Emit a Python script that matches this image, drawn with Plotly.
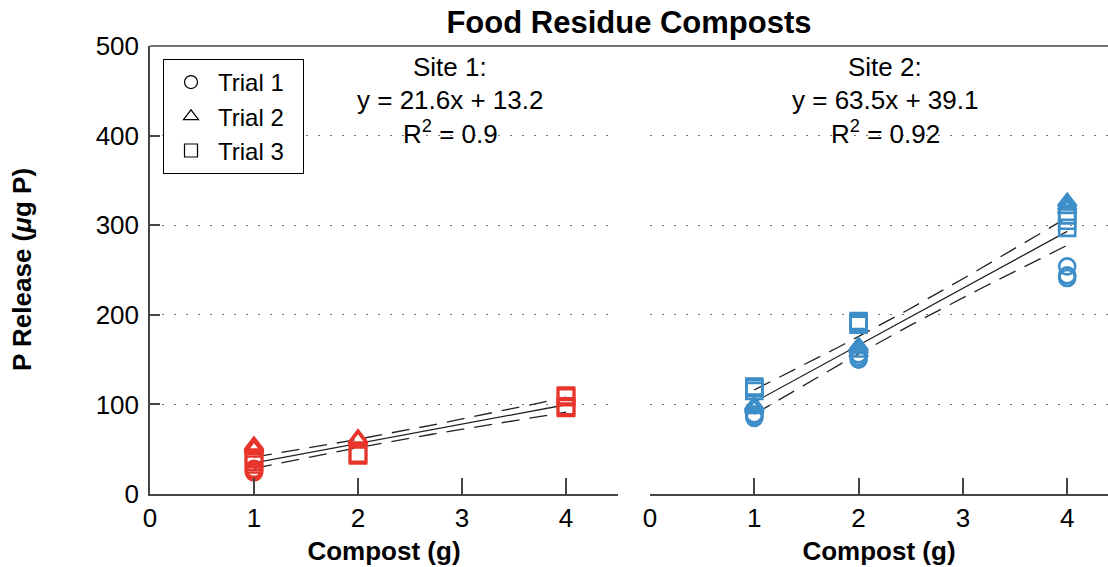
import numpy as np
import plotly.graph_objects as go

# ---- data: P release (ug P) per compost dose (g), by site and trial ----
DOSES_TICKS = [0, 1, 2, 3, 4]
Y_TICKS = [0, 100, 200, 300, 400, 500]

site1_t1_x = [1, 1, 1]
site1_t1_y = [24, 26, 28]
site1_t2_x = [1, 1, 1, 2, 2, 2]
site1_t2_y = [50, 52, 54, 60, 61, 62]
site1_t3_x = [1, 1, 1, 2, 2, 2, 4, 4, 4, 4, 4, 4]
site1_t3_y = [33, 36, 39, 43, 44, 45, 96, 97, 98, 108, 109, 110]

site2_t1_x = [1, 1, 1, 2, 2, 2, 4, 4, 4]
site2_t1_y = [85, 87, 89, 150, 153, 156, 241, 244, 254]
site2_t2_x = [1, 1, 1, 2, 2, 2, 4, 4, 4]
site2_t2_y = [95, 97, 99, 158, 162, 165, 318, 322, 326]
site2_t3_x = [1, 1, 1, 2, 2, 2, 4, 4, 4]
site2_t3_y = [115, 118, 120, 189, 191, 193, 297, 305, 311]

# regression results printed on each panel
site1_fit = dict(slope=21.6, intercept=13.2, r2=0.9)
site2_fit = dict(slope=63.5, intercept=39.1, r2=0.92)

RED = "#e8352b"
BLUE = "#3d8ec8"
FONT = "Liberation Sans, Arial, Helvetica, sans-serif"
FS = 26

# two-sided 95% Student t critical values by degrees of freedom
T95 = {1: 12.706, 2: 4.303, 3: 3.182, 4: 2.776, 5: 2.571, 6: 2.447, 7: 2.365,
       8: 2.306, 9: 2.262, 10: 2.228, 11: 2.201, 12: 2.179, 13: 2.160,
       14: 2.145, 15: 2.131, 16: 2.120, 17: 2.110, 18: 2.101, 19: 2.093,
       20: 2.086, 21: 2.080, 22: 2.074, 23: 2.069, 24: 2.064, 25: 2.060,
       26: 2.056, 27: 2.052, 28: 2.048, 29: 2.045, 30: 2.042}


def conf_band(xs_all, ys_all, fit, xgrid):
    x = np.asarray(xs_all, float)
    y = np.asarray(ys_all, float)
    n = len(x)
    pred = fit["slope"] * x + fit["intercept"]
    s = np.sqrt(np.sum((y - pred) ** 2) / (n - 2))
    xbar = x.mean()
    sxx = np.sum((x - xbar) ** 2)
    hw = T95[min(n - 2, 30)] * s * np.sqrt(1.0 / n + (xgrid - xbar) ** 2 / sxx)
    line = fit["slope"] * xgrid + fit["intercept"]
    return line, line - hw, line + hw


fig = go.Figure()

xgrid = np.linspace(1, 4, 61)
panels = [
    ("x", "y", RED, site1_fit,
     [(site1_t1_x, site1_t1_y, "circle-open"),
      (site1_t2_x, site1_t2_y, "triangle-up-open"),
      (site1_t3_x, site1_t3_y, "square-open")]),
    ("x2", "y2", BLUE, site2_fit,
     [(site2_t1_x, site2_t1_y, "circle-open"),
      (site2_t2_x, site2_t2_y, "triangle-up-open"),
      (site2_t3_x, site2_t3_y, "square-open")]),
]

for xa, ya, color, fit, trials in panels:
    all_x = sum([list(t[0]) for t in trials], [])
    all_y = sum([list(t[1]) for t in trials], [])
    line, lo, hi = conf_band(all_x, all_y, fit, xgrid)
    for band in (lo, hi):
        fig.add_trace(go.Scatter(
            x=xgrid, y=band, mode="lines", xaxis=xa, yaxis=ya,
            line=dict(color="#222", width=1.3, dash="18px,10px"),
            showlegend=False, hoverinfo="skip"))
    fig.add_trace(go.Scatter(
        x=xgrid, y=line, mode="lines", xaxis=xa, yaxis=ya,
        line=dict(color="#222", width=1.3), showlegend=False, hoverinfo="skip"))
    for tx, ty, sym in trials:
        fig.add_trace(go.Scatter(
            x=tx, y=ty, mode="markers", xaxis=xa, yaxis=ya,
            marker=dict(symbol=sym, size=16, color=color,
                        line=dict(color=color, width=2.6)),
            showlegend=False))

# legend entries in black
NBSP = "\u00a0"
for name, sym in [("Trial 1", "circle-open"), ("Trial 2", "triangle-up-open"),
                  ("Trial 3", "square-open")]:
    fig.add_trace(go.Scatter(
        x=[None], y=[None], mode="markers", name=name + NBSP * 2,
        marker=dict(symbol=sym, size=13, color="black",
                    line=dict(color="black", width=1.2))))

axis_common = dict(
    showline=True, linecolor="#444", linewidth=1.5, ticks="inside",
    tickcolor="#444", tickwidth=1.5, zeroline=False, showgrid=False,
    tickfont=dict(family=FONT, size=FS, color="black"),
)
grid_common = dict(showgrid=True, gridcolor="#777", gridwidth=1.2,
                   griddash="2px,10px")

W, H = 1108, 567
ML, MR, MT, MB = 150, 0, 46, 73
PW = W - ML - MR

fig.update_layout(
    width=W, height=H,
    margin=dict(l=ML, r=MR, t=MT, b=MB),
    paper_bgcolor="white", plot_bgcolor="white",
    font=dict(family=FONT, size=FS, color="black"),
    title=dict(text="<b>Food Residue Composts</b>", x=0.5, xref="paper",
               xanchor="center", y=1 - 22 / H, yref="container",
               yanchor="middle", font=dict(family=FONT, size=31)),
    xaxis=dict(domain=[0, 468 / PW], range=[0, 4.5], tickvals=DOSES_TICKS,
               ticklen=16, ticklabelstandoff=0,
               title=dict(text="<b>Compost (g)</b>", standoff=10,
                          font=dict(family=FONT, size=FS)),
               **axis_common),
    yaxis=dict(range=[0, 500], tickvals=Y_TICKS, ticklen=10,
               ticklabelstandoff=4, **{**axis_common, **grid_common}),
    xaxis2=dict(domain=[500 / PW, 1], range=[0, (W - 650) / 104.3],
                tickvals=DOSES_TICKS, ticklen=16, ticklabelstandoff=0,
                anchor="y2",
                title=dict(text="<b>Compost (g)</b>", standoff=10,
                           font=dict(family=FONT, size=FS)),
                **axis_common),
    yaxis2=dict(range=[0, 500], tickvals=Y_TICKS, anchor="x2",
                showticklabels=False, showline=False, ticks="",
                zeroline=False, **grid_common),
    legend=dict(x=13 / PW, y=(494 - 59) / 448, xanchor="left", yanchor="top",
                bgcolor="white", bordercolor="black", borderwidth=1,
                font=dict(family=FONT, size=24), tracegroupgap=0,
                itemwidth=44),
    showlegend=True,
)

# frame line along the top of both panels
fig.add_shape(type="line", xref="paper", yref="paper", x0=0, x1=1, y0=1, y1=1,
              line=dict(color="#444", width=1.5))

# y-axis title
fig.add_annotation(text="<b>P Release (<i>μ</i>g P)</b>", xref="paper",
                   yref="paper", x=(22 - ML) / PW, y=0.5, textangle=-90,
                   showarrow=False, xanchor="center", yanchor="middle",
                   font=dict(family=FONT, size=FS))


def site_labels(name, fit, xa, ya, xc):
    lines = [f"{name}:",
             f"y = {fit['slope']}x + {fit['intercept']}",
             f"R<sup>2</sup> = {fit['r2']}"]
    for txt, py in zip(lines, [67, 100, 132]):
        fig.add_annotation(text=txt, xref=xa, yref="paper", x=xc,
                           y=(494 - py) / 448, showarrow=False,
                           xanchor="center", yanchor="middle",
                           font=dict(family=FONT, size=FS, color="black"))


site_labels("Site 1", site1_fit, "x", "y", (450 - 150) / 104.0)
site_labels("Site 2", site2_fit, "x2", "y2", (885 - 650) / 104.3)

fig.write_html("out.html")
